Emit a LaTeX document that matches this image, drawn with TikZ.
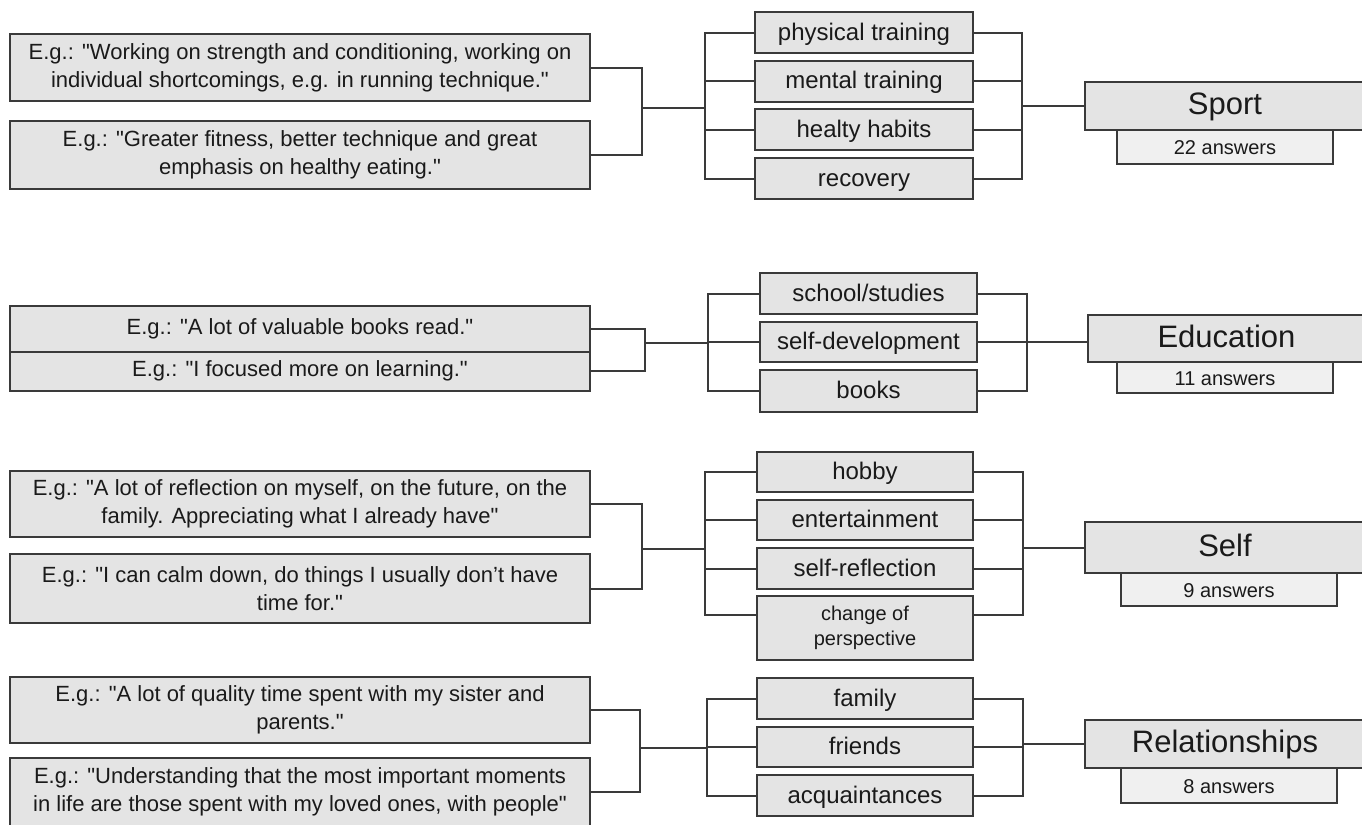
\documentclass[tikz,border=0pt]{standalone}
\usepackage{fontspec}
\setmainfont{Liberation Sans}[Ligatures=TeXOff]
\usetikzlibrary{calc}
\definecolor{boxfill}{HTML}{E4E4E4}
\definecolor{ansfill}{HTML}{F0F0F0}
\definecolor{edge}{HTML}{3A3A3A}
\definecolor{ink}{HTML}{1A1A1A}
\begin{document}
\begin{tikzpicture}[x=0.5pt,y=-0.5pt,
  base/.style={draw=edge,line width=1pt,fill=boxfill,text=ink,inner sep=0pt,align=center},
  one/.style={text height=0.95em,text depth=0.2em},
  quote/.style={base,minimum width=290pt,font=\fontsize{11}{14}\selectfont},
  item/.style={base,one,minimum height=20.5pt,font=\fontsize{12}{14}\selectfont},
  item2/.style={base,minimum height=20.5pt,font=\fontsize{10}{12.5}\selectfont},
  topic/.style={base,text height=1.05em,text depth=0.2em,minimum width=140pt,font=\fontsize{15.5}{18}\selectfont},
  answers/.style={base,one,fill=ansfill,minimum width=108pt,font=\fontsize{10}{12}\selectfont},
  link/.style={draw=edge,line width=1pt}]
\useasboundingbox (0,0) rectangle (1362,825);
\fill[white] (0,0) rectangle (1362,825);

% ---------------- Sport ----------------
\node[quote,minimum height=33.5pt] (a1) at (300,67.5) {E.g.: "Working on strength and conditioning, working on\\individual shortcomings, e.g. in running technique."};
\node[quote,minimum height=34pt] (a2) at (300,155) {E.g.: "Greater fitness, better technique and great\\emphasis on healthy eating."};
\node[item,minimum width=109pt] (p1) at (864,32.5) {physical training};
\node[item,minimum width=109pt] (p2) at (864,81) {mental training};
\node[item,minimum width=109pt] (p3) at (864,129.5) {healty habits};
\node[item,minimum width=109pt] (p4) at (864,178.5) {recovery};
\node[topic,minimum height=24pt] (sport) at (1225,106) {Sport};
\node[answers,minimum height=17pt] (sporta) at (1225,147) {22 answers};
\coordinate (ja) at (642,108);
\coordinate (jb) at (705,108);
\coordinate (jc) at (1022,106);
\draw[link] (a1.east) -| (ja) |- (a2.east);
\draw[link] (ja) -- (jb);
\foreach \n in {p1,p2,p3,p4}{\draw[link] (jb) |- (\n.west); \draw[link] (\n.east) -| (jc);}
\draw[link] (jc) -- (sport.west);

% ---------------- Education ----------------
\node[quote,minimum height=23pt] (b1) at (300,328.5) {E.g.: "A lot of valuable books read."};
\node[quote,minimum height=19.5pt] (b2) at (300,371) {E.g.: "I focused more on learning."};
\node[item,minimum width=108.5pt] (e1) at (868.5,293.5) {school/studies};
\node[item,minimum width=108.5pt,minimum height=20pt] (e2) at (868.5,342) {self-development};
\node[item,minimum width=108.5pt,minimum height=21pt] (e3) at (868.5,391) {books};
\node[topic,minimum width=138.5pt,minimum height=23.5pt] (edu) at (1226.5,338.5) {Education};
\node[answers,minimum height=15.5pt] (edua) at (1225,377.5) {11 answers};
\coordinate (ka) at (645,343);
\coordinate (kb) at (708,343);
\coordinate (kc) at (1027,342);
\draw[link] (b1.east) -| (ka) |- (b2.east);
\draw[link] (ka) -- (kb);
\foreach \n in {e1,e2,e3}{\draw[link] (kb) |- (\n.west); \draw[link] (\n.east) -| (kc);}
\draw[link] (kc) -- (kc -| edu.west);

% ---------------- Self ----------------
\node[quote,minimum height=33pt] (c1) at (300,504) {E.g.: "A lot of reflection on myself, on the future, on the\\family. Appreciating what I already have"};
\node[quote,minimum height=34.5pt] (c2) at (300,588.5) {E.g.: "I can calm down, do things I usually don’t have\\time for."};
\node[item,minimum width=108pt,minimum height=20pt] (s1) at (865,472) {hobby};
\node[item,minimum width=108pt,minimum height=20pt] (s2) at (865,520) {entertainment};
\node[item,minimum width=108pt] (s3) at (865,568.5) {self-reflection};
\node[item2,minimum width=108pt,minimum height=32pt] (s4) at (865,628) {change of\\perspective};
\node[topic,minimum height=25.5pt] (self) at (1225,547.5) {Self};
\node[answers,minimum height=16.5pt] (selfa) at (1229,589.5) {9 answers};
\coordinate (la) at (642,549);
\coordinate (lb) at (705,549);
\coordinate (lc) at (1023,547.5);
\coordinate (s4w) at ($(s4.north west)!0.3!(s4.south west)$);
\coordinate (s4e) at ($(s4.north east)!0.3!(s4.south east)$);
\draw[link] (c1.east) -| (la) |- (c2.east);
\draw[link] (la) -- (lb);
\foreach \n in {s1,s2,s3}{\draw[link] (lb) |- (\n.west); \draw[link] (\n.east) -| (lc);}
\draw[link] (lb) |- (s4w);
\draw[link] (s4e) -| (lc);
\draw[link] (lc) -- (self.west);

% ---------------- Relationships ----------------
\node[quote,minimum height=33pt] (d1) at (300,709.5) {E.g.: "A lot of quality time spent with my sister and\\parents."};
\node[quote,minimum height=34pt] (d2) at (300,792) {E.g.: "Understanding that the most important moments\\in life are those spent with my loved ones, with people"};
\node[item,minimum width=108pt] (r1) at (865,698.5) {family};
\node[item,minimum width=108pt,minimum height=20pt] (r2) at (865,747) {friends};
\node[item,minimum width=108pt] (r3) at (865,795.5) {acquaintances};
\node[topic,minimum height=24pt] (rel) at (1225,744) {Relationships};
\node[answers,minimum height=17.5pt] (rela) at (1229,785.5) {8 answers};
\coordinate (ma) at (640,748);
\coordinate (mb) at (707,748);
\coordinate (mc) at (1023,744);
\draw[link] (d1.east) -| (ma) |- (d2.east);
\draw[link] (ma) -- (mb);
\foreach \n in {r1,r2,r3}{\draw[link] (mb) |- (\n.west); \draw[link] (\n.east) -| (mc);}
\draw[link] (mc) -- (rel.west);
\end{tikzpicture}
\end{document}
